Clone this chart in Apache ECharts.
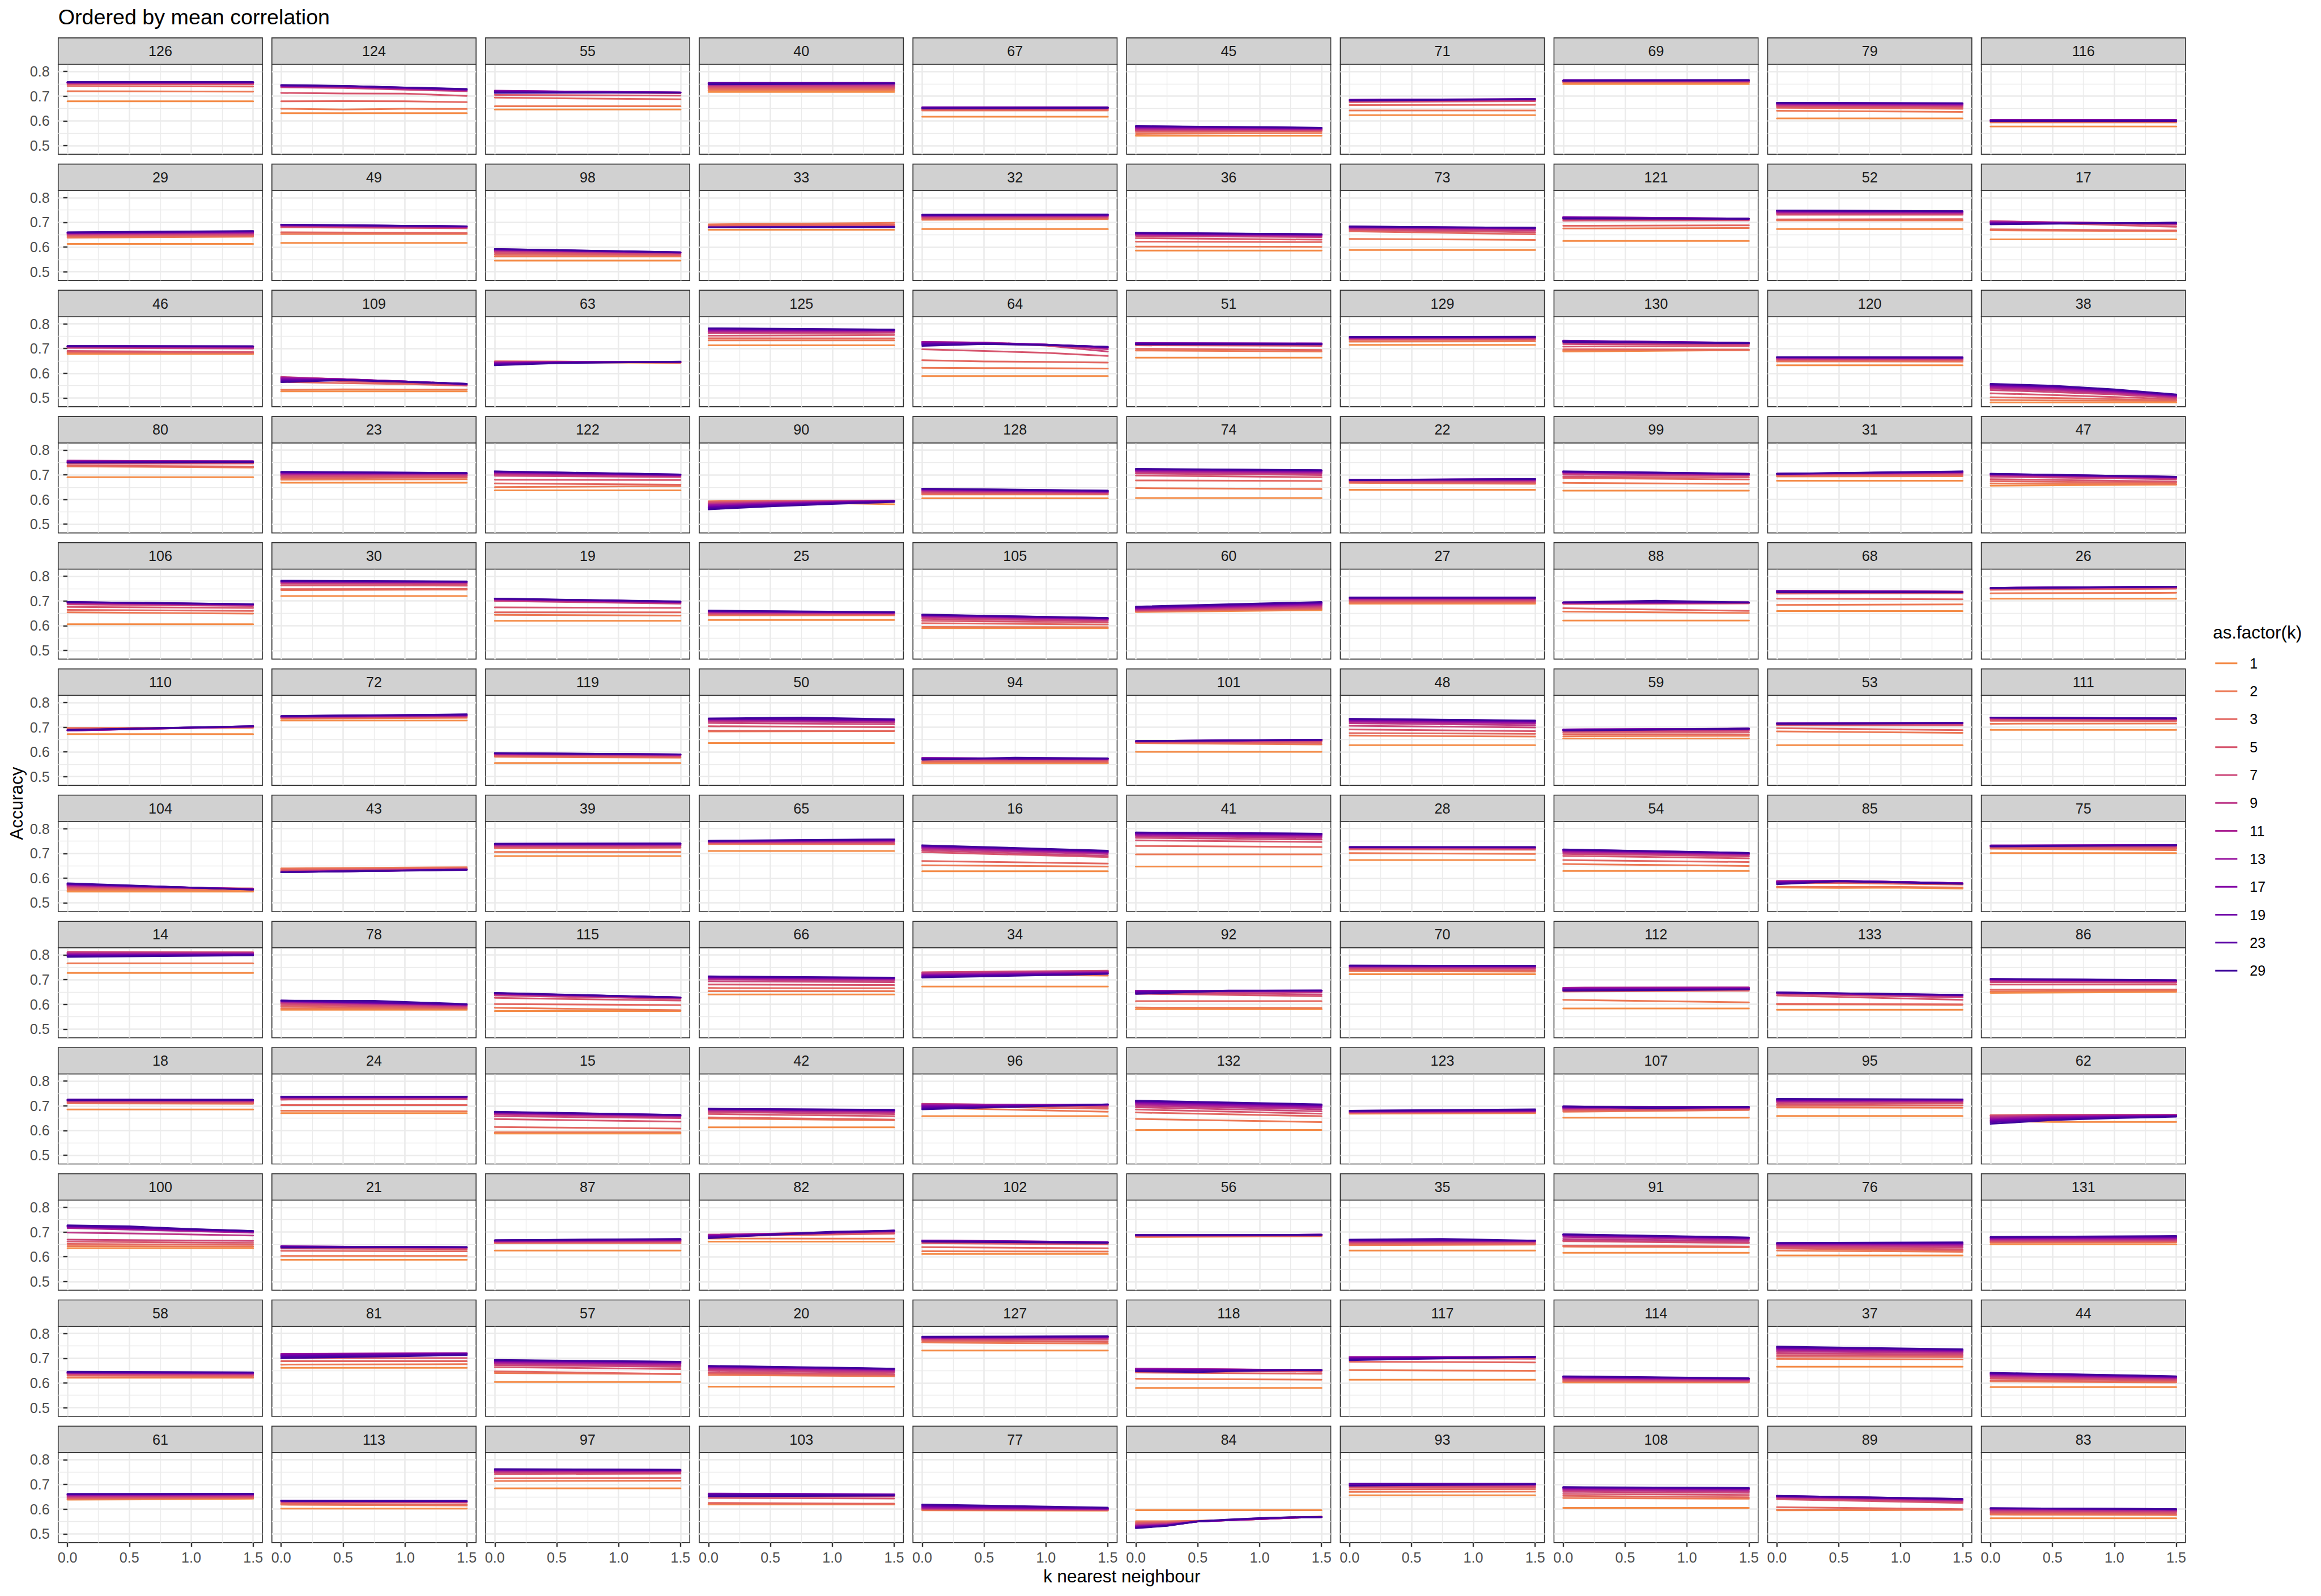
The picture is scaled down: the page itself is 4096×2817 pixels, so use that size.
<!DOCTYPE html>
<html><head><meta charset="utf-8">
<script src="https://cdn.jsdelivr.net/npm/echarts@6/dist/echarts.min.js"></script>
<style>html,body{margin:0;padding:0;background:#fff}#c{width:4096px;height:2817px}</style>
</head><body><div id="c"></div>
<script>
// ---------- DATA ----------
const kLevels = ['1','2','3','5','7','9','11','13','17','19','23','29'];
const kColors = ['#F48B47','#EC7854','#E26660','#D6556D','#CB4679','#BC3687','#AB2494','#98149F','#8407A7','#6F01A8','#5901A5','#41049D'];
const facetLabels = [
 '126','124','55','40','67','45','71','69','79','116',
 '29','49','98','33','32','36','73','121','52','17',
 '46','109','63','125','64','51','129','130','120','38',
 '80','23','122','90','128','74','22','99','31','47',
 '106','30','19','25','105','60','27','88','68','26',
 '110','72','119','50','94','101','48','59','53','111',
 '104','43','39','65','16','41','28','54','85','75',
 '14','78','115','66','34','92','70','112','133','86',
 '18','24','15','42','96','132','123','107','95','62',
 '100','21','87','82','102','56','35','91','76','131',
 '58','81','57','20','127','118','117','114','37','44',
 '61','113','97','103','77','84','93','108','89','83'];
// x positions of the sampled k-nearest-neighbour values, by number of samples
const xPositions = {2:[0,1.5],3:[0,0.75,1.5],4:[0,0.5,1,1.5],7:[0,0.25,0.5,0.75,1,1.25,1.5]};
const xBreaks = [0,0.5,1,1.5], xMinorBreaks = [0.25,0.75,1.25];
const yBreaks = [0.5,0.6,0.7,0.8], yMinorBreaks = [0.55,0.65,0.75];
// accuracy x1000; each panel lists lines for k = 1,2,3,5,7,9,11,13,17,19,23,29
const row01 = [
 [679,[720,718],[741,739],748,752,753,754,755,756,756,757,757],
 [631,[649,646,649,648],[679,680,679,676],[713,711,710,701],[736,733,726,720],[738,736,729,722],[740,738,731,724],[741,739,732,725],[742,740,733,726],[743,741,734,727],[744,741,735,728],[745,742,735,729]],
 [646,659,[694,687],[705,702],[718,712],[720,713],[721,714],[722,714],[721,715],[719,715],[716,715],[713,714]],
 [717,724,730,735,740,744,748,751,753,754,752,[748,751]],
 [617,642,645,648,650,652,653,654,655,654,653,[650,653]],
 [540,[547,551],[555,558],[560,561],563,[566,565],[569,566],[572,568],[575,570],[577,571],[578,572],[579,572]],
 [623,642,[664,665],[676,680],[679,683],[681,685],[683,686],[684,687],[685,688],[685,688],[684,688],[682,688]],
 [749,755,757,759,761,762,763,763,763,764,764,[762,765]],
 [610,[641,636],[653,649],[658,655],[662,660],[665,663],[667,665],[669,667],[671,669],[672,670],[673,671],[673,671]],
 [577,594,597,600,602,603,604,604,603,602,600,599]];
const row02 = [
 [613,[638,642],[644,646],[648,650],[651,654],[653,656],[655,658],[656,660],[657,662],[658,663],[659,664],[660,665]],
 [617,653,[660,657],[680,676],[684,679],[686,680],[687,681],[688,682],[689,683],[690,684],[691,684],[691,684]],
 [545,562,[569,567],[576,570],[582,574],[585,576],[587,577],[589,578],[590,578],[591,578],[592,579],[592,579]],
 [670,[692,698],[687,692],[682,686],[679,683],[679,682],[679,681],[679,681],[679,681],[680,681],[680,681],[680,681]],
 [673,[710,713],[714,716],[718,720],[722,723],[724,725],[726,727],[727,728],[728,729],[729,730],[730,731],[731,732]],
 [586,[602,601],[622,620],[636,630],[645,640],[649,644],[651,646],[653,648],[655,650],[656,651],[657,652],[658,652]],
 [588,[633,629],[664,652],[669,660],[673,666],[676,670],[678,673],[680,675],[681,676],[682,677],[683,678],[683,678]],
 [625,[675,677],[686,688],[707,708],[712,711],[716,713],[719,714],[721,715],[721,715],[719,715],[717,715],[715,714]],
 [673,708,[712,713],731,[735,734],[738,737],[741,739],[743,741],[745,743],[747,744],[748,745],[748,745]],
 [631,[668,664],[672,667],[703,682],[705,690],[704,693],[702,695],[700,696],[698,697],[696,698],[694,698],[692,699]]];
const row03 = [
 [678,[682,680],[687,684],[690,686],[703,700],[706,703],[708,705],[709,707],[710,708],[710,709],[710,709],709],
 [527,[533,535,534,534],[565,560,556,550],[578,568,560,551],[585,575,565,553],[584,576,566,554],[582,576,567,555],[580,576,567,556],[576,575,567,556],[572,574,567,557],[568,574,566,557],[564,572,565,557]],
 [[645,644,643,642],[648,647,645,643],[648,647,645,643],[647,646,645,644],[646,646,645,645],[645,646,646,645],[644,646,646,646],[642,645,646,646],[640,644,646,646],[638,643,645,646],[635,642,645,646],[632,641,644,647]],
 [713,733,[742,741],[752,755],[762,764],[767,768],771,[774,773],[777,774],[779,775],[781,776],[782,777]],
 [589,[622,621,620,619],[653,648,646,643],[697,690,683,670],[726,722,712,688],[727,724,715,697],[727,724,716,701],[726,723,716,704],[724,722,716,705],[720,721,716,706],[716,720,715,707],[711,718,714,707]],
 [663,[692,688],[699,694],[713,711],[717,715],[719,717],[721,719],[722,720],[722,721],[721,720],719,717],
 [715,[728,729],[735,736],[738,739],[740,741],742,[743,744],[744,745],[745,746],[746,747],747,[747,748]],
 [[688,694],[692,693],[697,696],[708,711],[718,716],[723,719],[727,721],[730,722],[731,723],[732,723],[730,722],[727,722]],
 [632,[648,647],[652,651],655,[658,657],[660,659],[662,661],[663,662],[664,663],[665,664],[665,664],[665,664]],
 [482,[492,490,489,488],[503,500,495,490],[519,512,504,495],[532,524,514,500],[538,530,519,503],[543,535,523,506],[547,539,526,508],[551,543,529,510],[553,546,531,512],[555,548,533,513],[557,550,535,514]]];
const row04 = [
 [690,[734,729],[737,733],[745,746],752,[756,754],[757,755],755,[753,754],[751,753],[750,752],[749,751]],
 [668,[680,682],[686,689],[692,693],697,701,704,[706,705],[708,706],[710,707],[711,707],[712,707]],
 [637,[650,654],[665,660],[680,679],[696,691],[702,694],[706,697],[709,698],[711,699],[712,700],[713,701],[714,701]],
 [[586,587,585,581],[593,594,592,590],[591,594,595,594],[588,592,594,595],[585,590,593,595],[582,588,592,595],[579,586,591,595],[576,584,590,595],[572,581,588,594],[569,579,587,593],[565,576,585,592],[560,572,582,590]],
 [605,620,[624,622],[628,624],[632,627],[635,629],[637,630],[639,632],[641,633],[642,634],[643,635],[644,636]],
 [606,[646,642],[677,675],[697,690],[705,699],[711,705],[715,709],[718,712],[720,715],[722,717],[723,718],[724,719]],
 [639,[667,663],[670,665],[673,669],[676,673],[678,676],[679,678],680,[680,681],[680,682],[679,683],[678,683]],
 [636,[667,663],[687,681],[692,690],[700,697],[705,699],[708,701],[710,702],[711,703],[712,703],[713,704],[714,704]],
 [676,[693,694],[697,699],[700,703],[702,706],[703,708],[704,709],[704,710],[704,711],[704,712],[704,713],[704,714]],
 [[656,660],[665,662],[674,668],[682,673],[692,682],[697,686],[699,688],[701,689],[702,690],[703,691],[704,692],[704,692]]];
const row05 = [
 [606,[654,649],[664,660],[676,672],[686,680],[690,683],[692,684],[694,685],[695,686],[695,686],[696,687],[696,687]],
 [720,[744,746],[748,749],[763,762],[770,769],[774,773],[776,775],[778,776],[779,777],[780,778],[781,778],[782,779]],
 [620,[644,641],654,[674,672],[700,689],[704,692],[706,694],[707,695],[708,696],[709,697],[710,697],[710,698]],
 [623,642,645,[648,647],[651,649],[653,650],[655,652],[657,652],[658,653],[659,654],[660,654],[661,655]],
 [590,[595,594],[610,605],[620,613],[628,619],[634,623],[638,626],[640,627],[642,629],[643,630],[644,631],[645,631]],
 [[655,663],[657,666],[659,669],[661,673],[663,677],[665,681],[667,684],[669,687],[671,690],[673,692],[675,694],[677,696]],
 [689,[692,693],697,701,704,707,709,711,712,713,714,714],
 [621,[657,651],[671,660],[688,690],[690,692],[691,693],[692,693],[693,694],694,694,694,[694,701,694]],
 [659,[684,686],[709,707],[730,731],[735,734],[738,736],[740,737],[741,738],[741,738],[739,737],[737,736],735],
 [709,[731,733],[745,750],[748,753],[750,755],[751,756],[752,757],[752,757],[753,758],[753,758],[753,758],[752,758]]];
const row06 = [
 [672,[697,698],[694,700],[690,701],[688,702],[687,702],[686,703],[686,703],[687,703],[688,704],[688,704],[689,704]],
 [727,[735,738],[737,741],[739,743],[740,745],[741,746],[742,747],[743,748],[744,749],[745,750],[745,751],[745,752]],
 [555,[580,577],[583,579],[587,583],[590,585],[591,587],[592,588],[593,589],[594,589],[594,590],[595,590],[595,590]],
 [636,[683,684],[686,685],[704,700],[717,712],[724,719],[728,724],[731,727],[733,729],[734,730],[735,731],[735,739,732]],
 [553,557,[562,560],[568,565],[572,568],[574,570],[575,571],[575,572],[575,573],[574,573],[572,573],[568,577,574]],
 [600,[636,630],[638,636],[640,642],[641,645],[642,647],[643,648],[643,649],[643,649],[644,649],[644,649],[644,649]],
 [627,[666,662],[676,673],[691,684],[706,699],[716,708],[722,715],[726,719],[729,722],[731,724],[733,726],[734,727]],
 [654,[663,665],[672,671],680,[685,687],[688,690],[690,692],[691,693],[691,694],[690,694],[688,694],[686,694]],
 [627,[683,677],[696,688],[708,707],[712,713],[714,715],[715,716],[716,717],[716,717],[716,717],[715,717],[713,717]],
 [689,[714,715],[726,725],[731,729],[734,732],[736,733],[737,734],[738,735],[739,735],[739,735],[739,736],[739,736]]];
const row07 = [
 [545,[551,552],[557,558],[562,558],[566,557],[569,556],[571,556],[573,555],[575,555],[576,554],[577,554],[579,553]],
 [[637,640],[639,644],[634,640],[630,637],[627,636],[626,635],[625,635],[625,634],[624,634],[624,634],[624,633],[624,634]],
 [689,706,[721,723],[725,726],[729,731],[732,733],[734,735],[736,737],[737,738],[738,739],[739,740],[739,740]],
 [710,[738,737],[740,738],[743,741],[745,746],[746,748],[747,750],[748,752],[749,754],[750,755],[750,756],[751,757]],
 [628,[652,647],[669,659],[705,685],[712,690],[718,697],[722,701],[725,704],[728,706],[730,708],[731,710],[733,711]],
 [647,696,[730,726],[753,746],[763,756],[770,763],[774,768],[777,772],[780,775],[782,777],[784,779],[785,780]],
 [673,[701,698],[716,715],[720,719],[722,721],[723,722],[724,723],[725,724],[725,724],725,725,725],
 [629,[657,649],[673,665],[690,680],[698,688],[703,693],[707,696],[710,698],[712,700],[714,701],[715,702],[716,702]],
 [[562,560,561,558],[565,564,564,562],[580,580,577,574],[585,585,581,577],[588,588,583,578],[588,589,584,579],[587,589,584,579],[586,589,584,579],[584,588,584,579],[582,588,584,578],[579,587,583,578],[575,587,582,577]],
 [701,[719,713],[722,720],725,[728,729],[730,731],[731,732],[732,733],[732,734],[731,734],[730,733],[728,733]]];
const row08 = [
 [727,766,[805,806],810,[811,810],808,[805,806],[802,804],[799,802],[797,801],[795,800],[792,798]],
 [578,[583,582],[590,584],[597,587],[603,591],[607,594],[610,596],[612,597],[613,599],[614,600],[615,600],[615,614,601]],
 [573,[586,576],[601,597],[626,615],[636,622],[640,624],[642,626],[643,627],[644,627],[645,628],[645,628],[646,628]],
 [640,653,[666,665],[680,678],[693,690],[700,697],[704,701],[707,703],[709,705],[711,706],[712,707],[713,708]],
 [672,[723,716],[728,733],[730,736],[729,735],[726,733],[722,731],[719,729],[716,727],[714,726],[711,724],[708,723]],
 [580,[587,585],613,[643,633],[648,640],[652,648],[654,652],[655,654],[654,655],[651,656],[647,656,656],[642,655,656]],
 [722,[734,732],[738,737],743,[747,746],[750,749],[752,751],[754,753],[755,754],[756,755],[757,756],[757,756]],
 [583,[618,608],[652,655],[660,663],[665,667],[667,668],[667,668],[665,666],[662,664],[659,662],[657,661],[655,660]],
 [578,[600,598],[602,600],[636,618],[642,628],[645,633],[646,635],[647,636],[647,637],[648,637],[648,638],[648,638]],
 [[646,650],[652,655],[659,660],680,[690,688],[695,692],[698,694],[700,695],[701,696],[702,697],[702,697],[703,698]]];
const row09 = [
 [685,[710,708],[713,711],[716,715],[719,718],[721,720],[722,721],[723,722],[724,723],[725,724],[725,724],[723,724]],
 [670,[680,678],703,[725,726],[728,729],[731,732],[733,734],[734,735],[735,736],[736,737],737,737],
 [588,593,[614,608],[646,636],[658,650],[665,655],[669,658],[671,660],[673,661],[674,662],[675,663],[676,663]],
 [613,[649,641],[653,644],[667,658],[675,666],[680,672],[683,676],[685,679],[686,681],[687,682],[688,683],[688,684]],
 [658,[692,676],[700,688],[706,695],[708,700],[707,702],[705,703],[702,704],[699,705],[695,705],[690,706],[686,706]],
 [602,[647,634],[673,658],[685,668],[694,678],[700,686],[706,692],[710,696],[714,700],[716,702],[719,704],[721,706]],
 [[668,670],[670,672],[672,674],[673,676],[674,677],[675,678],[676,679],[677,680],[678,681],[679,682],[680,684],[680,686]],
 [652,[676,683],[680,685],[684,688],[687,690],[689,691],[691,692],[692,693],694,695,[697,695],[698,690,696]],
 [659,[693,692],[700,702],[705,710],[712,715],[716,718],[719,720],[721,722],[723,724],725,726,[728,726]],
 [[638,635,635,635],[660,663,662,661],[662,664,664,663],[661,663,664,664],[659,662,663,664],[655,660,662,663],[651,658,661,662],[647,655,659,661],[642,652,657,660],[638,649,655,659],[633,646,652,658],[627,642,650,656]]];
const row10 = [
 [635,[643,641],[652,648],[661,656],[669,664],[698,686],[716,697],[720,700],[722,702],[724,703],[725,704],[727,723,712,704]],
 [588,603,[624,622],[633,631],[637,634],[639,636],[641,637],[642,638],[642,638],[642,639],[640,639],[637,639]],
 [625,655,[656,657],[658,660],[660,662],[662,664],[663,666],[664,667],[665,669],[666,670],[667,671],[667,672]],
 [661,[674,673],[683,693],[688,695],[689,700],[689,702],[688,703],[686,704],[684,705],[682,705],[679,706],[675,690,701,706]],
 [611,[622,621],[639,634],[655,650],[660,654],[663,657],[665,658],[666,659],[666,659],[665,658],[663,657],[661,656]],
 [[680,683],[681,684],[682,685],[684,686],[685,687],[686,688],[687,688],[688,689],[688,689],[688,689],[688,689],[687,688]],
 [625,[647,649],652,656,[659,660],[661,662],663,[665,664],[666,665],[667,665],[668,665],[669,672,665]],
 [616,[641,638],[645,641],[663,655],[666,658],[672,664],[680,670],[685,673],[688,675],[689,676],[690,677],[691,678]],
 [605,[625,620],[633,625],[637,630],[642,637],[646,643],[649,648],651,653,[654,655],[655,656],[656,658]],
 [650,[657,658],[660,661],[663,664],[666,667],[669,670],[671,673],[674,676],[676,678],[678,680],[679,682],[680,684]]];
const row11 = [
 [621,[623,622],[630,628],[634,632],[637,635],[639,637],[640,638],[641,639],[642,640],[643,641],[644,642],[645,643]],
 [661,[674,676],688,[700,701],[712,714],[717,719],[718,720],[717,720],[714,719],[711,718],[706,716],[700,713]],
 [604,[640,636],[647,636],[664,656],[672,665],[678,671],[682,676],[685,679],[688,682],[690,684],[692,685],[693,686]],
 [585,[632,627],[638,631],[643,635],[650,641],[656,646],[660,650],[663,653],[665,655],[667,656],[668,657],[669,658]],
 [731,[764,759],[770,766],[775,774],778,[780,781],[782,783],[783,785],[784,786],[785,787],[786,788],[787,789]],
 [580,[617,613],[642,637],[652,645],[656,649],[658,651],[658,652],[657,652],[655,652],[652,652],[649,652],[647,644,650,652]],
 [613,[652,649],[686,683],[700,698],[704,702],[705,704],[705,705],[704,705],[702,705],[699,705],[696,706],[692,706]],
 [602,[605,603],[608,605],[612,607],[615,610],[618,612],[620,614],[622,615],[624,617],[625,618],[626,618],[627,619]],
 [666,[697,695],[706,705],[713,711],[720,716],[727,722],[732,726],[736,729],[740,731],[742,733],[745,735],[747,736]],
 [583,[606,602],[610,605],[618,610],[624,614],[628,618],[631,620],[634,622],[636,624],[638,625],[640,626],[641,627]]];
const row12 = [
 [[638,642],[640,644],[643,646],[646,649],[649,652],[652,655],[655,657],[657,659],[659,660],[660,661],[661,662],[661,662]],
 [602,[618,615],[622,619],[628,627],[630,629],[631,630],[632,631],[633,632],[633,632],[634,633],[634,633],[634,633]],
 [684,[714,715],[725,726],[742,744],[748,749],752,[755,754],[757,756],[759,757],[760,758],[761,759],[762,759]],
 [619,[622,620],[625,622],[645,643],652,657,[660,659],[662,660],[663,660],[662,659],[658,658],[652,655]],
 [[595,594],[597,595],[598,596],[600,597],[601,598],[603,599],[605,600],[607,601],[610,602],[613,603],[616,604],[619,606]],
 [596,[551,551,553,556,560,567,570],[546,548,552,556,560,565,569],[542,545,551,555,560,565,569],[538,542,550,555,560,565,569],[535,540,550,555,560,565,568],[533,538,550,555,560,565,568],[531,536,550,555,561,565,568],[529,535,550,556,561,566,568],[527,534,550,556,562,566,568],[525,533,550,557,563,567,568],[523,532,551,558,564,567,568]],
 [656,[670,671],[680,681],[688,689],[693,694],[696,697],[698,699],[700,701],[702,702],[703,703],[703,702],[695,701]],
 [605,[645,642],[654,648],[662,657],[670,666],[676,672],[680,677],[683,680],[685,682],[687,684],[688,685],[689,686]],
 [[595,597],598,[608,600],[640,625],[645,630],[648,634],[650,636],[651,638],[652,639],[653,640],[654,641],[654,641]],
 [563,[578,576],[583,580],[588,585],[593,590],[596,593],[599,596],[601,598],[602,599],[603,600],[604,600],[604,600]]];
const facetRows = [row01,row02,row03,row04,row05,row06,row07,row08,row09,row10,row11,row12];

// ---------- LAYOUT ----------
const S = 0.685;
const NCOL = 10, NROW = 12;
const L0 = 150*S, CP = 550.5*S, PW = 526*S;
const T0 = 97.6*S, RP = 325.2*S, SH = 68*S, PH = 232*S;
const X_MIN = -0.075, X_MAX = 1.575, Y_MIN = 0.4646, Y_MAX = 0.829;
const FONT = "'Liberation Sans', Arial, Helvetica, sans-serif";
const SMALL = 8.8/72*300*S;   // 8.8pt at 300dpi
const MED = 11/72*300*S;
const BIG = 13.2/72*300*S;

function toPoints(v){
  const a = Array.isArray(v) ? v : [v, v];
  const xs = xPositions[a.length];
  return a.map((y,i)=>[xs[i], y/1000]);
}

const grids=[], xAxes=[], yAxes=[], series=[], graphics=[];
for (let r=0;r<NROW;r++){
  for (let c=0;c<NCOL;c++){
    const p = r*NCOL+c;
    const left = L0 + c*CP, stripTop = T0 + r*RP, top = stripTop + SH;
    const bottomRow = r===NROW-1, firstCol = c===0;
    grids.push({left:left, top:top, width:PW, height:PH, show:true, borderColor:'#333333', borderWidth:1.6,
      backgroundColor:'rgba(0,0,0,0)', containLabel:false, outerBoundsMode:'none'});
    xAxes.push({type:'value', gridIndex:p, min:X_MIN, max:X_MAX, minInterval:0.5, maxInterval:0.5,
      axisLine:{show:false},
      axisTick:{show:bottomRow, customValues:xBreaks, length:7.5, lineStyle:{color:'#333333', width:2.4}},
      axisLabel:{show:bottomRow, customValues:xBreaks, formatter:v=>Number(v).toFixed(1), color:'#4D4D4D', fontSize:SMALL, fontFamily:FONT, margin:14},
      splitLine:{show:true, lineStyle:{color:'#EBEBEB', width:2.6}}});
    xAxes.push({type:'value', gridIndex:p, min:X_MIN, max:X_MAX, position:'bottom',
      axisLine:{show:false}, axisTick:{show:false, customValues:xMinorBreaks}, axisLabel:{show:false, customValues:xMinorBreaks},
      splitLine:{show:true, lineStyle:{color:'#EBEBEB', width:1.4}}});
    yAxes.push({type:'value', gridIndex:p, min:Y_MIN, max:Y_MAX, minInterval:0.1, maxInterval:0.1,
      axisLine:{show:false},
      axisTick:{show:firstCol, customValues:yBreaks, length:7.5, lineStyle:{color:'#333333', width:2.4}},
      axisLabel:{show:firstCol, customValues:yBreaks, formatter:v=>Number(v).toFixed(1), color:'#4D4D4D', fontSize:SMALL, fontFamily:FONT, margin:15},
      splitLine:{show:true, lineStyle:{color:'#EBEBEB', width:2.6}}});
    yAxes.push({type:'value', gridIndex:p, min:Y_MIN, max:Y_MAX, position:'left',
      axisLine:{show:false}, axisTick:{show:false, customValues:yMinorBreaks}, axisLabel:{show:false, customValues:yMinorBreaks},
      splitLine:{show:true, lineStyle:{color:'#EBEBEB', width:1.4}}});
    const lines = facetRows[r][c];
    lines.forEach((v,j)=>{
      series.push({type:'line', name:kLevels[j], xAxisIndex:2*p, yAxisIndex:2*p, data:toPoints(v),
        symbol:'none', showSymbol:false, color:kColors[j], itemStyle:{color:kColors[j]},
        lineStyle:{width:3, color:kColors[j], cap:'round', join:'round'},
        silent:true, animation:false, emphasis:{disabled:true}, z:3});
    });
    graphics.push({type:'rect', shape:{x:left, y:stripTop, width:PW, height:SH},
      style:{fill:'#D1D1D1', stroke:'#333333', lineWidth:1.6}, silent:true, z:5});
    graphics.push({type:'text', x:left+PW/2, y:stripTop+SH/2,
      style:{text:facetLabels[p], fill:'#1A1A1A', fontSize:SMALL, fontFamily:FONT, align:'center', verticalAlign:'middle'}, silent:true, z:6});
  }
}
const panelsRight = L0 + (NCOL-1)*CP + PW;
const panelsBottom = T0 + (NROW-1)*RP + SH + PH;
graphics.push({type:'text', x:(L0+panelsRight)/2, y:4062*S,
  style:{text:'k nearest neighbour', fill:'#000', fontSize:MED, fontFamily:FONT, align:'center', verticalAlign:'middle'}, silent:true});
graphics.push({type:'text', x:43*S, y:(T0+SH+panelsBottom)/2, rotation:Math.PI/2,
  style:{text:'Accuracy', fill:'#000', fontSize:MED, fontFamily:FONT, align:'center', verticalAlign:'middle'}, silent:true});
graphics.push({type:'text', x:5701*S, y:1630*S,
  style:{text:'as.factor(k)', fill:'#000', fontSize:MED, fontFamily:FONT, align:'left', verticalAlign:'middle'}, silent:true});

const chart = echarts.init(document.getElementById('c'), null, {renderer:'svg', width:4096, height:2817});
chart.setOption({
  animation:false,
  backgroundColor:'#ffffff',
  title:{text:'Ordered by mean correlation', left:L0, top:30-BIG/2, padding:0,
    textStyle:{fontSize:BIG, fontWeight:'normal', color:'#000000', fontFamily:FONT}},
  legend:{show:true, orient:'vertical', left:5707*S, top:1709*S-15, padding:0,
    itemWidth:57*S, itemHeight:3, itemGap:72*S-30, icon:'rect', selectedMode:false,
    itemStyle:{borderWidth:0},
    textStyle:{fontSize:SMALL, color:'#000000', fontFamily:FONT, lineHeight:30, padding:[0,0,0,17]},
    data:kLevels},
  grid:grids, xAxis:xAxes, yAxis:yAxes, series:series, graphic:graphics
});
</script></body></html>
